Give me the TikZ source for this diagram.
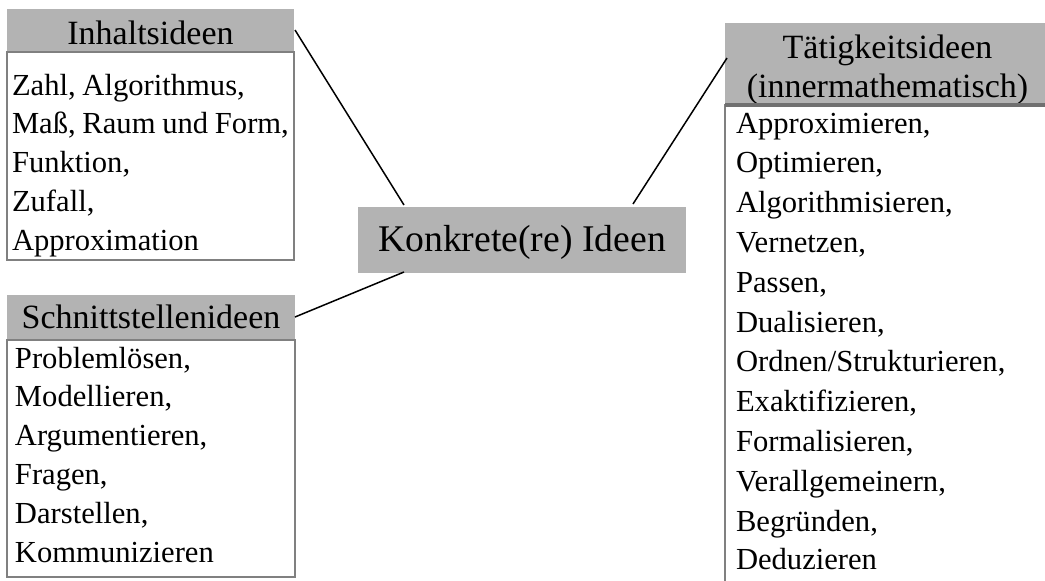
\documentclass[tikz,border=0pt]{standalone}
\usepackage{fontspec}
\setmainfont{Liberation Serif}
\usetikzlibrary{calc}
\definecolor{hdrgray}{RGB}{179,179,179}
\definecolor{edgegray}{RGB}{128,128,128}
\definecolor{rulegray}{RGB}{112,112,112}
% type sizes: box headings, list entries, central idea
\newcommand\headfont{\fontsize{17}{19.5}\selectfont}
\newcommand\listfont{\fontsize{15.3}{19.4}\selectfont\spaceskip=0.22em\relax}
\newcommand\longlistfont{\fontsize{15.3}{19.9}\selectfont\spaceskip=0.22em\relax}
\newcommand\bigfont{\fontsize{18.85}{22}\selectfont}
\begin{document}
\begin{tikzpicture}[x=0.5pt,y=-0.5pt,
  every node/.style={outer sep=0pt},
  hdr/.style={fill=hdrgray, inner sep=0pt, font=\headfont},
  listbox/.style={draw=edgegray, line width=1pt, anchor=north west,
    inner ysep=0pt, align=left, font=\listfont},
  centre/.style={fill=hdrgray, inner sep=0pt, minimum width=164pt,
    minimum height=33pt, text height=14pt, text depth=3pt, font=\bigfont},
  link/.style={draw=black, line width=0.75pt}]
\useasboundingbox (0,0) rectangle (1045,580);
\clip (0,0) rectangle (1045,580);

% headings
\node[hdr, minimum width=143.5pt, minimum height=21.5pt,
      text height=14pt, text depth=0.5pt] (inhh) at (150.5,30.5) {Inhaltsideen};
\node[hdr, minimum width=144pt, minimum height=22.5pt,
      text height=14pt, text depth=3.5pt] (schh) at (151,317.5) {Schnittstellenideen};
\node[hdr, minimum width=162.5pt, minimum height=41pt, text width=155pt,
      align=center, text height=14pt, text depth=20pt] (tath) at (887.5,64)
      {\headfont Tätigkeitsideen\\(innermathematisch)};

% lists under the headings
\node[listbox, inner xsep=2.5pt, text width=138.5pt, text height=21.5pt,
      text depth=82.5pt] (inhb) at (inhh.south west)
      {\listfont Zahl, Algorithmus,\\\mbox{Maß, Raum und Form,}\\Funktion,\\Zufall,\\Approximation};
\node[listbox, inner xsep=4pt, text width=136pt, text height=14pt,
      text depth=104.5pt] (schb) at (schh.south west)
      {\listfont Problemlösen,\\Modellieren,\\Argumentieren,\\Fragen,\\Darstellen,\\Kommunizieren};
\node[listbox, inner xsep=5.5pt, text width=157pt, text height=14pt,
      text depth=233pt] (tatb) at (tath.south west)
      {\longlistfont Approximieren,\\Optimieren,\\Algorithmisieren,\\Vernetzen,\\Passen,\\Dualisieren,\\Ordnen/Strukturieren,\\Exaktifizieren,\\Formalisieren,\\Verallgemeinern,\\Begründen,\\Deduzieren};
\draw[rulegray, line width=1.75pt] (tatb.north west) -- (tatb.north east);

% central idea
\node[centre] (konk) at (522,240) {Konkrete(re) Ideen};

% connectors
\draw[link] ($(inhh.east)+(1,-0.5)$) -- ($(konk.north west)+(46,-2)$);
\draw[link] ($(tath.west)+(2,-6)$) -- ($(konk.north east)+(-53,-3)$);
\draw[link] ($(schh.east)+(0,-0.5)$) -- ($(konk.south west)+(46,-1)$);
\end{tikzpicture}
\end{document}
